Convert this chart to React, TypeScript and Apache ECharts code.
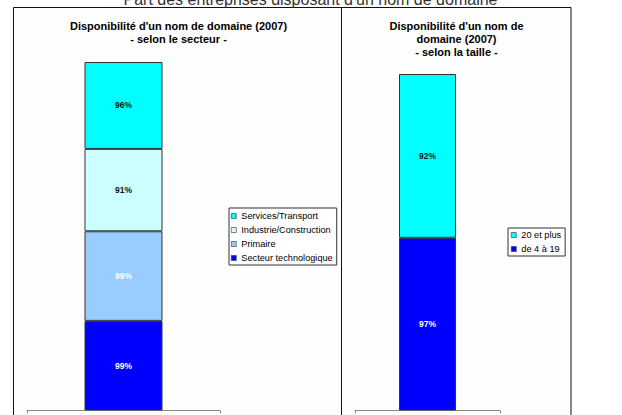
import React, { useEffect, useRef } from "react";
import * as echarts from "echarts";

const mainTitle = "Part des entreprises disposant d'un nom de domaine";
const sectorTitle = "Disponibilité d'un nom de domaine (2007)\n- selon le secteur -";
const sizeTitle = "Disponibilité d'un nom de\ndomaine (2007)\n- selon la taille -";

const categories = ["2007"];

// Stack order: bottom to top
const sectorNames = ["Secteur technologique", "Primaire", "Industrie/Construction", "Services/Transport"];
const sectorValues = [99, 99, 91, 96];

const sizeNames = ["de 4 à 19", "20 et plus"];
const sizeValues = [97, 92];

const sectorColors = ["#0000FF", "#99CCFF", "#CCFFFF", "#00FFFF"];
const sectorLabelColors = ["#ffffff", "#ffffff", "#111111", "#111111"];
const sizeColors = ["#0000FF", "#00FFFF"];
const sizeLabelColors = ["#ffffff", "#111111"];

const FONT = "'Liberation Sans', Arial, Helvetica, sans-serif";

export default function App() {
  const ref = useRef<HTMLDivElement>(null);

  useEffect(() => {
    if (!ref.current) return;
    const chart = echarts.init(ref.current, null, { renderer: "svg" });

    const sectorTotal = sectorValues.reduce((a, b) => a + b, 0);
    const sizeTotal = sizeValues.reduce((a, b) => a + b, 0);

    const makeSeries = (
      names: string[],
      values: number[],
      colors: string[],
      labelColors: string[],
      axisIndex: number,
      stack: string,
      barWidth: number
    ) =>
      names.map((name, i) => ({
        name,
        type: "bar",
        stack,
        xAxisIndex: axisIndex,
        yAxisIndex: axisIndex,
        barWidth,
        data: [values[i]],
        itemStyle: { color: colors[i], borderColor: "#333", borderWidth: 1 },
        label: {
          show: true,
          position: "inside",
          formatter: "{c}%",
          fontSize: 8.5,
          fontWeight: "bold",
          fontFamily: FONT,
          color: labelColors[i],
        },
        emphasis: { disabled: true },
      }));

    const legendCommon = {
      orient: "vertical",
      icon: "rect",
      itemWidth: 5,
      itemHeight: 5,
      itemGap: 4,
      borderColor: "#333",
      borderWidth: 1,
      backgroundColor: "#ffffff",
      selectedMode: false,
      itemStyle: { borderColor: "#333", borderWidth: 0.6 },
      textStyle: { fontSize: 9.2, fontFamily: FONT, color: "#000", lineHeight: 10 },
    };

    const axisX = (gridIndex: number) => ({
      type: "category",
      gridIndex,
      data: categories,
      axisLine: { show: true, lineStyle: { color: "#888", width: 1 } },
      axisTick: { show: true, length: 3, lineStyle: { color: "#888" } },
      axisLabel: { show: false },
      splitLine: { show: false },
    });

    const axisY = (gridIndex: number, max: number) => ({
      type: "value",
      gridIndex,
      min: 0,
      max,
      show: false,
      splitLine: { show: false },
    });

    chart.setOption({
      animation: false,
      backgroundColor: "#ffffff",
      graphic: [
        {
          type: "rect",
          silent: true,
          z: -10,
          shape: { x: 13.5, y: 7.5, width: 557.5, height: 430 },
          style: { fill: "#fefefe", stroke: "#111", lineWidth: 1 },
        },
        {
          type: "line",
          silent: true,
          z: -9,
          shape: { x1: 341.5, y1: 7.5, x2: 341.5, y2: 420 },
          style: { stroke: "#111", lineWidth: 1 },
        },
        {
          type: "text",
          silent: true,
          x: 310.5,
          y: -1,
          style: {
            text: mainTitle,
            fontSize: 16,
            fontFamily: FONT,
            fill: "#333",
            align: "center",
            verticalAlign: "middle",
          },
        },
        {
          type: "text",
          silent: true,
          x: 178.5,
          y: 19.5,
          style: {
            text: sectorTitle,
            fontSize: 11,
            fontWeight: "bold",
            fontFamily: FONT,
            fill: "#000",
            align: "center",
            verticalAlign: "top",
            lineHeight: 13,
          },
        },
        {
          type: "text",
          silent: true,
          x: 456.5,
          y: 19.5,
          style: {
            text: sizeTitle,
            fontSize: 11,
            fontWeight: "bold",
            fontFamily: FONT,
            fill: "#000",
            align: "center",
            verticalAlign: "top",
            lineHeight: 13,
          },
        },
      ],
      legend: [
        {
          ...legendCommon,
          data: [...sectorNames].reverse(),
          left: 229,
          top: 208,
          padding: [3, 4, 2, 2],
        },
        {
          ...legendCommon,
          data: [...sizeNames].reverse(),
          left: 508,
          top: 228,
          padding: [2, 4, 2, 3],
        },
      ],
      grid: [
        { left: 27, right: 622 - 220, top: 62, bottom: 4.5, containLabel: false },
        { left: 355, right: 622 - 500, top: 74, bottom: 4.5, containLabel: false },
      ],
      xAxis: [axisX(0), axisX(1)],
      yAxis: [axisY(0, sectorTotal), axisY(1, sizeTotal)],
      series: [
        ...makeSeries(sectorNames, sectorValues, sectorColors, sectorLabelColors, 0, "sector", 78),
        ...makeSeries(sizeNames, sizeValues, sizeColors, sizeLabelColors, 1, "size", 57),
      ],
    });

    return () => chart.dispose();
  }, []);

  return (
    <div
      ref={ref}
      style={{ position: "fixed", left: 0, top: 0, width: 622, height: 415, background: "#fff" }}
    />
  );
}
